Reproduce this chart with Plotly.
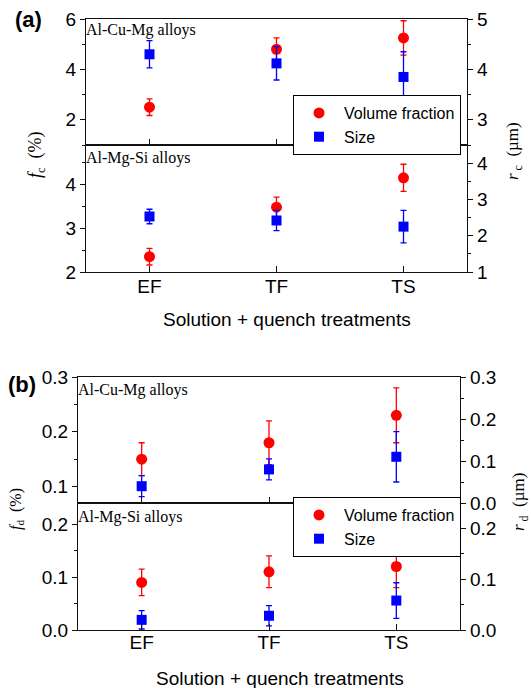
import plotly.graph_objects as go

W, H = 532, 688

categories = ["EF", "TF", "TS"]

# Panel (a): coarse particles
a_cu_vf = [2.5, 4.8, 5.25]
a_cu_vf_err = [0.33, 0.45, 0.68]
a_cu_size = [4.3, 4.12, 3.85]
a_cu_size_err = [0.27, 0.33, 0.5]
a_si_vf = [2.35, 3.48, 4.15]
a_si_vf_err = [0.19, 0.23, 0.31]
a_si_size = [2.53, 2.42, 2.25]
a_si_size_err = [0.2, 0.28, 0.45]

# Panel (b): dispersoids
b_cu_vf = [0.15, 0.18, 0.23]
b_cu_vf_err = [0.03, 0.04, 0.05]
b_cu_size = [0.04, 0.08, 0.11]
b_cu_size_err = [0.025, 0.025, 0.06]
b_si_vf = [0.09, 0.11, 0.12]
b_si_vf_err = [0.025, 0.03, 0.04]
b_si_size = [0.02, 0.028, 0.058]
b_si_size_err = [0.018, 0.02, 0.035]

RED = "#ff0000"
BLUE = "#0000ff"
LINE = "#111111"

def px(x):
    return x / W

def py(y):
    return 1 - y / H

fig = go.Figure()

def add_pair(xa, yl, yr, vf, vf_err, sz, sz_err, legend=None):
    show = legend is not None
    fig.add_trace(go.Scatter(
        x=categories, y=vf, mode="markers", name="Volume fraction",
        marker=dict(symbol="circle", size=11, color=RED),
        error_y=dict(type="data", array=vf_err, color=RED, thickness=1.3, width=3),
        xaxis=xa, yaxis=yl, showlegend=show, legend=legend or "legend"))
    fig.add_trace(go.Scatter(
        x=categories, y=sz, mode="markers", name="Size",
        marker=dict(symbol="square", size=10, color=BLUE),
        error_y=dict(type="data", array=sz_err, color=BLUE, thickness=1.3, width=3),
        xaxis=xa, yaxis=yr, showlegend=show, legend=legend or "legend"))

add_pair("x", "y", "y2", a_cu_vf, a_cu_vf_err, a_cu_size, a_cu_size_err, legend="legend")
add_pair("x2", "y3", "y4", a_si_vf, a_si_vf_err, a_si_size, a_si_size_err)
add_pair("x3", "y5", "y6", b_cu_vf, b_cu_vf_err, b_cu_size, b_cu_size_err)
add_pair("x4", "y7", "y8", b_si_vf, b_si_vf_err, b_si_size, b_si_size_err, legend="legend2")

TICKFONT = dict(family="Liberation Sans, Arial", size=19, color="black")

def xaxis(domain, anchor, labels, standoff=0):
    return dict(domain=domain, anchor=anchor, type="category", range=[-0.5, 2.5],
                showline=True, mirror=True, linecolor=LINE, linewidth=1.3,
                ticks="inside", ticklen=6, tickwidth=1.3, tickcolor=LINE,
                showticklabels=labels, tickfont=TICKFONT, ticklabelstandoff=standoff,
                showgrid=False, zeroline=False, automargin=False)

def yaxis(domain, anchor, rng, dtick, mdtick, side="left", overlaying=None, fmt=None):
    d = dict(domain=domain, anchor=anchor, range=rng, side=side,
             showline=True, linecolor=LINE, linewidth=1.3,
             ticks="outside", ticklen=5, tickwidth=1.3, tickcolor=LINE,
             tick0=0, dtick=dtick,
             minor=dict(ticks="outside", ticklen=3, tickwidth=1.2, tickcolor=LINE, dtick=mdtick, tick0=0),
             tickfont=TICKFONT, showgrid=False, zeroline=False, automargin=False)
    if overlaying:
        d["overlaying"] = overlaying
    if fmt:
        d["tickformat"] = fmt
    return d

xa_dom = [px(86), px(467)]
xb_dom = [px(78), px(460)]
ya_top = [py(145), py(19)]
ya_bot = [py(272), py(145)]
yb_top = [py(503), py(377)]
yb_bot = [py(630), py(503)]

legend_common = dict(xanchor="left", yanchor="top", bordercolor="black", borderwidth=1,
                     bgcolor="white", font=dict(family="Liberation Sans, Arial", size=16, color="black"),
                     itemwidth=40, tracegroupgap=0)

fig.update_layout(
    width=W, height=H,
    margin=dict(l=0, r=0, t=0, b=0, pad=0, autoexpand=False),
    paper_bgcolor="white", plot_bgcolor="white",
    font=dict(family="Liberation Sans, Arial", color="black"),
    xaxis=xaxis(xa_dom, "y", False),
    xaxis2=xaxis(xa_dom, "y3", True, standoff=-3),
    xaxis3=xaxis(xb_dom, "y5", False),
    xaxis4=xaxis(xb_dom, "y7", True, standoff=-5),
    yaxis=yaxis(ya_top, "x", [1, 6], 2, 1),
    yaxis2=yaxis(ya_top, "x", [2.5, 5], 1, 0.5, side="right", overlaying="y"),
    yaxis3=yaxis(ya_bot, "x2", [2, 4.9], 1, 0.5),
    yaxis4=yaxis(ya_bot, "x2", [1, 4.5], 1, 0.5, side="right", overlaying="y3"),
    yaxis5=yaxis(yb_top, "x3", [0.07, 0.3], 0.1, 0.05, fmt=".1f"),
    yaxis6=yaxis(yb_top, "x3", [0, 0.3], 0.1, 0.05, side="right", overlaying="y5", fmt=".1f"),
    yaxis7=yaxis(yb_bot, "x4", [0, 0.24], 0.1, 0.05, fmt=".1f"),
    yaxis8=yaxis(yb_bot, "x4", [0, 0.25], 0.1, 0.05, side="right", overlaying="y7", fmt=".1f"),
    legend=dict(x=px(293), y=py(95), **legend_common),
    legend2=dict(x=px(293), y=py(497), **legend_common),
)

SERIF = "Liberation Serif, Times New Roman"
ann = []
def text(x, y, s, size, family, xanchor="center", yanchor="middle", angle=0):
    ann.append(dict(x=px(x), y=py(y), xref="paper", yref="paper", text=s, showarrow=False,
                    xanchor=xanchor, yanchor=yanchor, textangle=angle,
                    font=dict(family=family, size=size, color="black")))

text(28, 19, "<b>(a)</b>", 22, "Liberation Sans, Arial")
text(22, 384, "<b>(b)</b>", 22, "Liberation Sans, Arial")
text(84, 30, "Al-Cu-Mg alloys", 16, SERIF, xanchor="left")
text(84, 158, "Al-Mg-Si alloys", 16, SERIF, xanchor="left")
text(76, 390, "Al-Cu-Mg alloys", 16, SERIF, xanchor="left")
text(76, 517, "Al-Mg-Si alloys", 16, SERIF, xanchor="left")
text(36, 155, "<i>f</i><sub>c</sub>  (%)", 18, SERIF, angle=-90)
text(514, 151, "<i>r</i><sub> c</sub>  (µm)", 17, SERIF, angle=-90)
text(16, 509, "<i>f</i><sub>d</sub>  (%)", 16, SERIF, angle=-90)
text(520, 502, "<i>r</i><sub> d</sub>  (µm)", 17, SERIF, angle=-90)
text(287, 320, "Solution + quench treatments", 19, "Liberation Sans, Arial")
text(280, 678, "Solution + quench treatments", 19, "Liberation Sans, Arial")
fig.update_layout(annotations=ann)

fig.write_html("out.html", config={"displayModeBar": False},
               post_script="document.body.style.margin='0';")
